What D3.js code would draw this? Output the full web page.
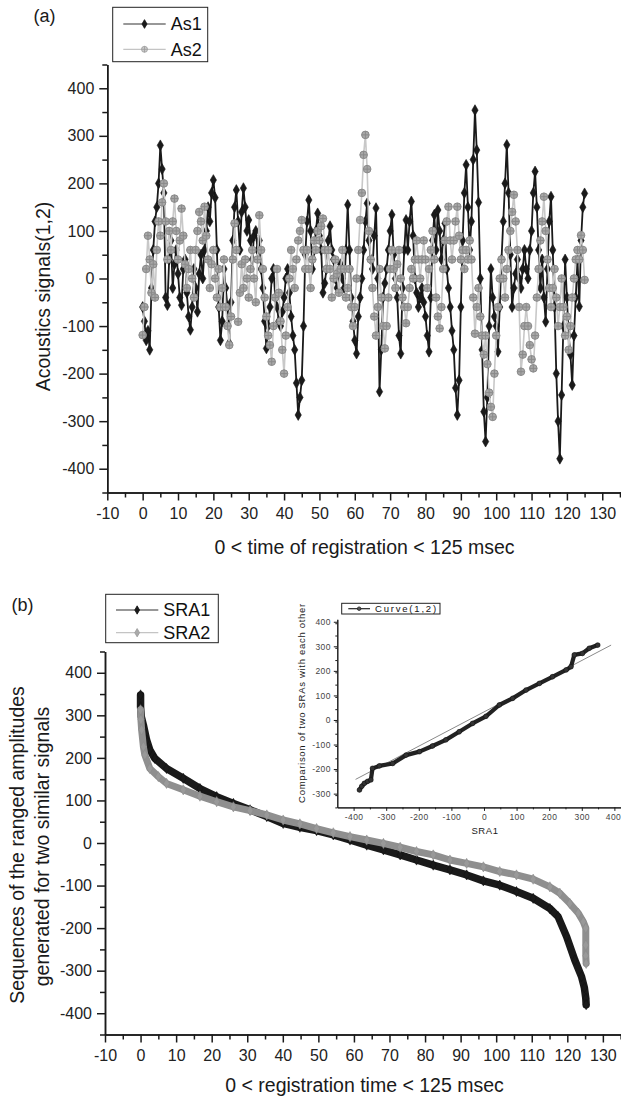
<!DOCTYPE html>
<html>
<head>
<meta charset="utf-8">
<script src="https://cdn.jsdelivr.net/npm/d3@7"></script>
<style>
  body { margin: 0; background: #fff; }
  svg text { font-family: "Liberation Sans", Arial, sans-serif; }
</style>
</head>
<body>
<div class="chart"></div>
<script>
const width = 621,
  height = 1098

// panel (a): one sample every 0.5 msec, t = 0 .. 125
const sampleStep = 0.5
const as1 = [
  -60, -90, -130, -110, -150, -20, 60, 120, 150, 200,
  280, 230, 180, -40, -56, 40, 80, -20, 30, 60,
  10, -40, -56, 20, 40, -30, -80, -108, -60, 20,
  -20, -70, 10, 50, 0, 60, 100, 150, 120, 180,
  207, 170, 60, -60, -130, -90, 20, -20, -60, -136,
  -50, 80, 150, 186, 120, 60, 140, 190, 150, 100,
  123, 80, 40, 90, 100, 60, 80, 20, -20, -90,
  -147, -100, -60, 0, 20, -40, -60, -90, -100, -70,
  -40, 0, 20, -30, -80, -120, -150, -220, -287, -250,
  -214, -100, 50, 120, 165, 100, 20, 60, 100, 137,
  90, 60, -30, -10, 20, 80, 110, 60, 40, 0,
  -20, 10, 30, 0, -20, 60, 155, 60, -40, -90,
  -130, -158, -80, -40, 0, 60, 120, 158, 80, 40,
  20, 90, 148, 0, -238, -150, -40, -10, 20, 60,
  100, 134, 50, 0, -40, -120, -158, -20, 60, 123,
  60, 120, 162, 90, 0, -30, -60, -40, -20, -50,
  -80, -120, -154, -40, 80, 134, 60, 144, 100, 40,
  80, 116, 20, -20, -60, -110, -150, -230, -287, -214,
  -60, 80, 180, 239, 150, 60, 120, 250, 354, 270,
  160, 0, -150, -280, -343, -250, -100, 20, -40, -80,
  -100, -154, -60, 40, 120, 200, 281, 180, 50, -60,
  -20, 10, 40, 0, -20, 20, 60, 20, 0, 60,
  100, 180, 225, 150, 60, -20, 40, -40, -91, 20,
  120, 172, 60, -60, -200, -300, -379, -245, -100, 40,
  -40, -120, -160, -224, -120, -40, 40, -59, 80, 150,
  179
]
const as2 = [
  -119, -60, 20, 90, 40, -30, 30, -40, 60, 120,
  90, 160, 200, 120, 40, 100, 60, 120, 168, 100,
  40, 80, 147, 90, 30, -20, 20, 60, 0, -40,
  60, 100, 140, 120, 80, 151, 90, 40, -20, 30,
  60, 0, -40, 20, -60, -20, 40, -60, -100, -140,
  -80, 40, 116, 60, -91, -30, 30, -20, 40, 0,
  -40, 20, 60, 0, -50, 40, 133, 60, 20, -40,
  -80, -120, -140, -175, -100, -40, 20, -30, -90, -150,
  -200, -120, -60, 0, 60, 20, -20, 40, 80, 100,
  123, 60, 20, 60, 20, -20, 40, 80, 60, 100,
  80, 110, 126, 60, 20, 60, 20, -40, 0, 40,
  10, -30, 20, 60, 20, -40, -20, 20, -60, -100,
  -60, 0, 60, 123, 180, 260, 302, 230, 100, 40,
  -20, -80, -120, -60, 20, -40, -100, -147, -100, -40,
  20, 60, 20, -20, 30, 60, 0, -40, -60, -94,
  -60, -20, 20, 0, 40, 80, 40, 0, 40, 80,
  40, -20, 20, 60, 100, 40, -40, -80, -105, -60,
  20, 80, 120, 151, 80, 40, 80, 120, 151, 90,
  40, 60, 20, 60, 40, 80, 40, -40, -116, -60,
  -20, -80, -120, -160, -120, -180, -240, -270, -291, -200,
  -120, -60, 0, 40, 0, -40, 20, 60, 100, 140,
  176, 120, 60, -60, -196, -160, -100, -60, -100, -140,
  -170, -189, -120, -40, 20, 80, 120, 172, 100, 40,
  -20, -60, -20, 20, -40, -100, -60, 0, -60, -120,
  -80, -150, -100, -40, 0, 40, 60, 40, 91, 60,
  -3
]

// panel (b): ranged amplitudes
const sra1Time = [0, 0, 0.2, 0.8, 1.7, 2.6, 4, 7.3, 12, 16.7, 21.4, 26.1, 30.8, 35.5, 40.1, 44.8, 49.5, 54.2, 58.9, 63.6, 68.3, 73, 77.6, 82.3, 87, 91.7, 96.4, 101, 105.7, 110.4, 115.1, 117.4, 119.8, 122.1, 124, 124.8, 125.2, 125.3]
const sra1 = [348, 320, 297, 277, 242, 219, 199, 175, 152, 128, 109, 93, 78, 62, 46, 37, 29, 19, 7, -5, -16, -28, -40, -52, -63, -75, -89, -99, -114, -130, -154, -173, -220, -275, -314, -340, -365, -380]
const sra2Time = [0, 0.1, 0.3, 0.8, 1.2, 2.6, 5, 7.3, 12, 16.7, 21.4, 26.1, 30.8, 35.5, 40.1, 44.8, 49.5, 54.2, 58.9, 63.6, 68.3, 73, 77.6, 82.3, 87, 91.7, 96.4, 101, 105.7, 110.4, 115.1, 117.9, 120.7, 123.1, 124.5, 125.2, 125.2, 125.2, 125.3]
const sra2 = [313, 290, 266, 226, 207, 175, 156, 140, 125, 110, 97, 85, 76, 66, 54, 45, 34, 24, 15, 7, -1, -10, -20, -28, -40, -48, -56, -67, -75, -85, -103, -118, -142, -165, -185, -200, -240, -265, -283]

// inset: SRA2 against SRA1
const curveX = [-382, -375, -367, -357, -347, -342, -321, -280, -239, -198, -158, -117, -76, -35, 6, 47, 88, 129, 170, 210, 252, 267, 277, 302, 323, 349]
const curveY = [-285, -270, -258, -250, -244, -197, -187, -177, -143, -129, -106, -81, -48, -14, 15, 61, 88, 122, 149, 176, 204, 217, 265, 271, 292, 305]
const fitX = [-394, 390]
const fitY = [-242, 305]

const timeTicks = [-10, 0, 10, 20, 30, 40, 50, 60, 70, 80, 90, 100, 110, 120, 130]
const ampTicks = [-400, -300, -200, -100, 0, 100, 200, 300, 400]
const insetTicks = [-400, -300, -200, -100, 0, 100, 200, 300, 400]
const insetYTicks = [-300, -200, -100, 0, 100, 200, 300, 400]

let svg = d3.select(".chart").append("svg")
  .attr("width", width)
  .attr("height", height)
  .style("background", "#fff")

function drawAxes(x, y, c) {
  let x0 = x.range()[0], y0 = y.range()[0]
  let xMinor = d3.range(c.xStep[0], x.domain()[1], c.xStep[1]).filter(v => !c.xTicks.includes(v))
  let yMinor = d3.range(y.domain()[0], y.domain()[1] + 1, c.yStep).filter(v => !c.yTicks.includes(v))
  let plain = d => String(d)

  let axes = [
    d3.axisBottom(x).tickValues(xMinor).tickSize(c.minor).tickFormat(""),
    d3.axisLeft(y).tickValues(yMinor).tickSize(c.minor).tickFormat(""),
    d3.axisBottom(x).tickValues(c.xTicks).tickSize(c.major).tickPadding(c.padX).tickFormat(plain),
    d3.axisLeft(y).tickValues(c.yTicks).tickSize(c.major).tickPadding(c.padY).tickFormat(plain)
  ]
  let grupos = axes.map((ax, i) => {
    let g = svg.append("g")
      .attr("transform", i % 2 == 0 ? `translate(0,${y0})` : `translate(${x0},0)`)
      .call(ax.tickSizeOuter(0))
    g.attr("font-family", null).attr("font-size", null)
    g.selectAll("path, line").attr("stroke", "#1a1a1a").attr("stroke-width", c.sw)
    g.selectAll("text")
      .attr("fill", c.color)
      .style("font-size", c.font + "px")
      .style("letter-spacing", c.ls + "px")
    return g
  })
  return grupos[2]
}

function diamond(size) {
  return d3.symbol(d3.symbolDiamond, size)()
}

function circlePlus(r) {
  return `M${-r},0a${r},${r} 0 1,0 ${2 * r},0a${r},${r} 0 1,0 ${-2 * r},0M${-r},0h${2 * r}M0,${-r}v${2 * r}`
}

function drawSeries(xs, ys, x, y, st) {
  let pts = xs.map((v, i) => [x(v), y(ys[i])])
  svg.append("path")
    .attr("d", d3.line()(pts))
    .attr("fill", "none")
    .attr("stroke", st.line)
    .attr("stroke-width", st.lw)
    .attr("stroke-linejoin", "round")
    .attr("stroke-linecap", "round")
  svg.append("g").selectAll("path")
    .data(pts)
    .join("path")
    .attr("transform", d => `translate(${d[0]},${d[1]})`)
    .attr("d", st.marker)
    .attr("fill", st.fill)
    .attr("stroke", st.stroke)
    .attr("stroke-width", st.msw)
}

function legend(box, items, font, ls) {
  svg.append("rect")
    .attr("x", box[0]).attr("y", box[1]).attr("width", box[2]).attr("height", box[3])
    .attr("fill", "#fff").attr("stroke", "#222").attr("stroke-width", 1)
  items.forEach(it => {
    svg.append("line")
      .attr("x1", it.x1).attr("x2", it.x2).attr("y1", it.y).attr("y2", it.y)
      .attr("stroke", it.line).attr("stroke-width", 1.2)
    svg.append("path")
      .attr("transform", `translate(${(it.x1 + it.x2) / 2},${it.y})`)
      .attr("d", it.marker).attr("fill", it.fill).attr("stroke", it.stroke).attr("stroke-width", 0.8)
    svg.append("text")
      .attr("x", it.x2 + 5).attr("y", it.y + font * 0.36)
      .style("font-size", font + "px").style("letter-spacing", ls + "px")
      .attr("fill", "#111")
      .text(it.label)
  })
}

function label(txt, x, y, size, rot, ls = 0) {
  svg.append("text")
    .attr("transform", `translate(${x},${y}) rotate(${rot})`)
    .attr("text-anchor", "middle")
    .style("font-size", size + "px")
    .style("letter-spacing", ls + "px")
    .attr("fill", "#1a1a1a")
    .text(txt)
}

// ---------- panel (a)
let xa = d3.scaleLinear().domain([-10, 135.3]).range([107.3, 621])
let ya = d3.scaleLinear().domain([-450, 450]).range([492.5, 64.5])

drawAxes(xa, ya, { xTicks: timeTicks, yTicks: ampTicks, xStep: [-5, 5], yStep: 50,
  major: 8, minor: 5, padX: 7.5, padY: 5, sw: 1.5, font: 16, ls: 0, color: "#222" })

let tiempos = as1.map((v, i) => i * sampleStep)
drawSeries(tiempos, as1, xa, ya, { line: "#1a1a1a", lw: 1.8, marker: diamond(34), fill: "#1a1a1a", stroke: "#111", msw: 0.6 })
drawSeries(tiempos, as2, xa, ya, { line: "#c8c8c8", lw: 1.6, marker: circlePlus(3.8), fill: "#a8a8a8", stroke: "#8a8a8a", msw: 1 })

legend([112.7, 7.3, 95, 54.4], [
  { x1: 123.3, x2: 165.7, y: 24, label: "As1", line: "#333", marker: diamond(22), fill: "#1a1a1a", stroke: "#111" },
  { x1: 123.3, x2: 165.7, y: 49.3, label: "As2", line: "#c4c4c4", marker: circlePlus(3), fill: "#ccc", stroke: "#999" }
], 18, 0)

label("(a)", 44.5, 21.5, 18, 0)
label("Acoustics signals(1,2)", 49.5, 296.5, 19.5, -90)
label("0 < time of registration < 125 msec", 364.5, 553.5, 19.5, 0)

// ---------- panel (b)
let xb = d3.scaleLinear().domain([-10, 135.1]).range([105, 621])
let yb = d3.scaleLinear().domain([-450, 450]).range([1034.5, 651.5])

drawAxes(xb, yb, { xTicks: timeTicks, yTicks: ampTicks, xStep: [-5, 5], yStep: 50,
  major: 8, minor: 5, padX: 7, padY: 5, sw: 1.5, font: 16, ls: 0, color: "#222" })

drawSeries(sra1Time, sra1, xb, yb, { line: "#1a1a1a", lw: 7.5, marker: diamond(30), fill: "#1a1a1a", stroke: "#111", msw: 0.5 })
drawSeries(sra2Time, sra2, xb, yb, { line: "#8f8f8f", lw: 7, marker: diamond(30), fill: "#999", stroke: "#888", msw: 0.5 })

legend([105.7, 594.3, 112.6, 48.4], [
  { x1: 116, x2: 158.3, y: 610, label: "SRA1", line: "#333", marker: diamond(20), fill: "#1a1a1a", stroke: "#111" },
  { x1: 116, x2: 158.3, y: 632.7, label: "SRA2", line: "#c4c4c4", marker: diamond(20), fill: "#aaa", stroke: "#999" }
], 18, 0)

label("(b)", 22.5, 610.5, 18, 0)
label("Sequences of the ranged amplitudes", 23.5, 845, 19.5, -90)
label("generated for two similar signals", 48.5, 846.5, 19.5, -90)
label("0 < registration time < 125 msec", 364.5, 1091.5, 19.5, 0)

// ---------- inset
let xi = d3.scaleLinear().domain([-450, 420]).range([337.3, 620.9])
let yi = d3.scaleLinear().domain([-356, 410]).range([807.4, 619.3])

svg.append("rect").attr("x", 337).attr("y", 619).attr("width", 284).attr("height", 188).attr("fill", "#fff")

let ejeInset = drawAxes(xi, yi, { xTicks: insetTicks, yTicks: insetYTicks, xStep: [-350, 100], yStep: 50,
  major: 3.5, minor: 2, padX: 3, padY: 3, sw: 1, font: 8.5, ls: 0.4, color: "#444" })
// the last label sits against the right edge
ejeInset.selectAll("text").filter(d => d == 400).attr("text-anchor", "end").attr("dx", "0.75em")

svg.append("line")
  .attr("x1", xi(fitX[0])).attr("y1", yi(fitY[0]))
  .attr("x2", xi(fitX[1])).attr("y2", yi(fitY[1]))
  .attr("stroke", "#8a8a8a").attr("stroke-width", 1)

drawSeries(curveX, curveY, xi, yi, { line: "#222", lw: 4.2, marker: d3.symbol(d3.symbolCircle, 18)(), fill: "#333", stroke: "#111", msw: 0.6 })

legend([341.7, 603.3, 98.3, 10.7], [
  { x1: 348.3, x2: 370, y: 608.7, label: "Curve(1,2)", line: "#222", marker: d3.symbol(d3.symbolCircle, 10)(), fill: "#555", stroke: "#222" }
], 9.5, 1.8)

label("SRA1", 485, 834, 9.5, 0, 0.6)
label("Comparison of two SRAs with each other", 305, 703, 9.5, -90, 0.7)
</script>
</body>
</html>
